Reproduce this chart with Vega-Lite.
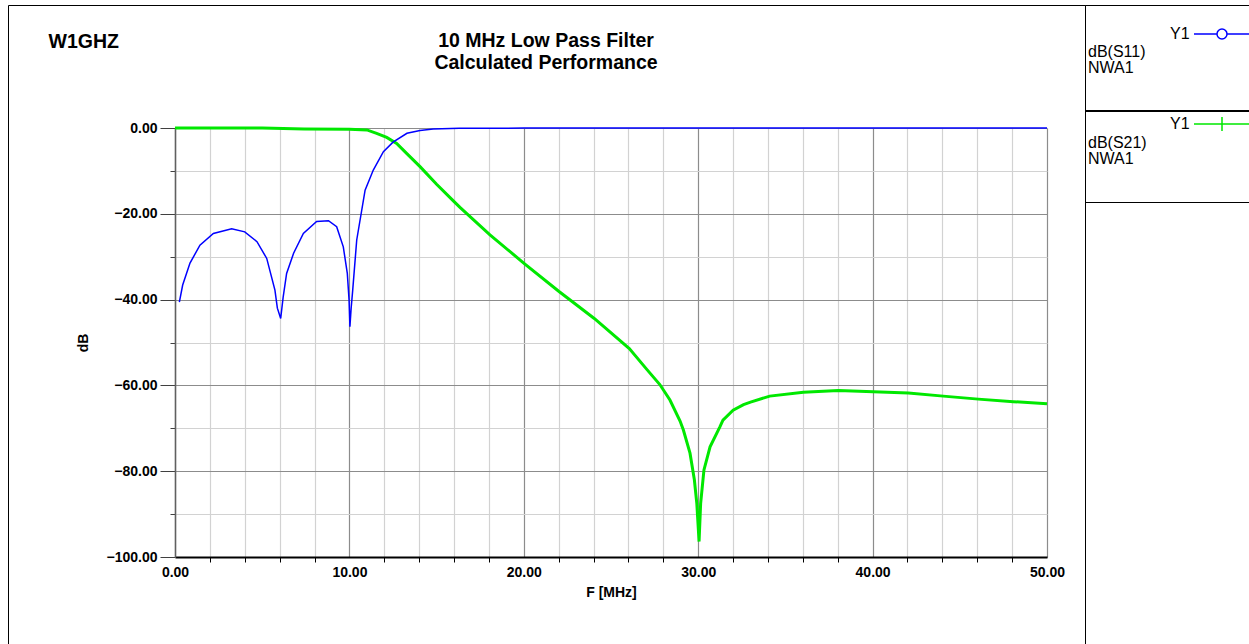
{
  "$schema": "https://vega.github.io/schema/vega-lite/v6.json",
  "width": 872,
  "height": 429,
  "autosize": {"type": "none"},
  "padding": {"left": 175, "top": 128, "right": 202, "bottom": 87},
  "background": "white",
  "config": {"view": {"stroke": null}, "font": "Liberation Sans"},
  "title": {
    "text": ["10 MHz Low Pass Filter", "Calculated Performance"],
    "anchor": "middle",
    "frame": "group",
    "dx": -65,
    "offset": -69,
    "font": "Liberation Sans",
    "fontSize": 19.5,
    "fontWeight": "bold",
    "color": "black",
    "lineHeight": 22
  },
  "data": {
    "values": [
      {"f": 0.25, "dB": -40.6, "series": "dB(S11)"},
      {"f": 0.44, "dB": -36.6, "series": "dB(S11)"},
      {"f": 0.86, "dB": -31.5, "series": "dB(S11)"},
      {"f": 1.43, "dB": -27.3, "series": "dB(S11)"},
      {"f": 2.2, "dB": -24.6, "series": "dB(S11)"},
      {"f": 3.25, "dB": -23.5, "series": "dB(S11)"},
      {"f": 4.0, "dB": -24.2, "series": "dB(S11)"},
      {"f": 4.7, "dB": -26.5, "series": "dB(S11)"},
      {"f": 5.26, "dB": -30.4, "series": "dB(S11)"},
      {"f": 5.73, "dB": -37.8, "series": "dB(S11)"},
      {"f": 5.87, "dB": -42.0, "series": "dB(S11)"},
      {"f": 6.06, "dB": -44.4, "series": "dB(S11)"},
      {"f": 6.2, "dB": -39.5, "series": "dB(S11)"},
      {"f": 6.4, "dB": -33.9, "series": "dB(S11)"},
      {"f": 6.8, "dB": -29.2, "series": "dB(S11)"},
      {"f": 7.36, "dB": -24.6, "series": "dB(S11)"},
      {"f": 8.12, "dB": -21.8, "series": "dB(S11)"},
      {"f": 8.8, "dB": -21.6, "series": "dB(S11)"},
      {"f": 9.27, "dB": -23.0, "series": "dB(S11)"},
      {"f": 9.65, "dB": -27.7, "series": "dB(S11)"},
      {"f": 9.88, "dB": -33.9, "series": "dB(S11)"},
      {"f": 9.98, "dB": -40.0, "series": "dB(S11)"},
      {"f": 10.03, "dB": -46.3, "series": "dB(S11)"},
      {"f": 10.1, "dB": -42.0, "series": "dB(S11)"},
      {"f": 10.19, "dB": -37.8, "series": "dB(S11)"},
      {"f": 10.42, "dB": -26.1, "series": "dB(S11)"},
      {"f": 10.9, "dB": -14.5, "series": "dB(S11)"},
      {"f": 11.37, "dB": -9.8, "series": "dB(S11)"},
      {"f": 11.95, "dB": -5.5, "series": "dB(S11)"},
      {"f": 12.5, "dB": -3.3, "series": "dB(S11)"},
      {"f": 13.3, "dB": -1.24, "series": "dB(S11)"},
      {"f": 14.05, "dB": -0.6, "series": "dB(S11)"},
      {"f": 14.8, "dB": -0.25, "series": "dB(S11)"},
      {"f": 16.3, "dB": -0.07, "series": "dB(S11)"},
      {"f": 20, "dB": -0.02, "series": "dB(S11)"},
      {"f": 30, "dB": -0.01, "series": "dB(S11)"},
      {"f": 40, "dB": 0, "series": "dB(S11)"},
      {"f": 50, "dB": 0, "series": "dB(S11)"},
      {"f": 0, "dB": 0, "series": "dB(S21)"},
      {"f": 5, "dB": -0.02, "series": "dB(S21)"},
      {"f": 7.4, "dB": -0.25, "series": "dB(S21)"},
      {"f": 10, "dB": -0.3, "series": "dB(S21)"},
      {"f": 11, "dB": -0.45, "series": "dB(S21)"},
      {"f": 11.56, "dB": -1.24, "series": "dB(S21)"},
      {"f": 12.14, "dB": -2.2, "series": "dB(S21)"},
      {"f": 12.71, "dB": -3.6, "series": "dB(S21)"},
      {"f": 13.28, "dB": -5.9, "series": "dB(S21)"},
      {"f": 14.05, "dB": -9.0, "series": "dB(S21)"},
      {"f": 15.0, "dB": -13.1, "series": "dB(S21)"},
      {"f": 15.96, "dB": -17.0, "series": "dB(S21)"},
      {"f": 16.34, "dB": -18.5, "series": "dB(S21)"},
      {"f": 18.06, "dB": -24.9, "series": "dB(S21)"},
      {"f": 20.03, "dB": -31.6, "series": "dB(S21)"},
      {"f": 22.02, "dB": -38.1, "series": "dB(S21)"},
      {"f": 24.04, "dB": -44.4, "series": "dB(S21)"},
      {"f": 26.05, "dB": -51.4, "series": "dB(S21)"},
      {"f": 27.04, "dB": -56.2, "series": "dB(S21)"},
      {"f": 27.8, "dB": -59.8, "series": "dB(S21)"},
      {"f": 28.38, "dB": -63.4, "series": "dB(S21)"},
      {"f": 28.96, "dB": -68.3, "series": "dB(S21)"},
      {"f": 29.15, "dB": -70.4, "series": "dB(S21)"},
      {"f": 29.53, "dB": -75.8, "series": "dB(S21)"},
      {"f": 29.78, "dB": -82.0, "series": "dB(S21)"},
      {"f": 29.92, "dB": -87.5, "series": "dB(S21)"},
      {"f": 30.05, "dB": -96.4, "series": "dB(S21)"},
      {"f": 30.14, "dB": -87.5, "series": "dB(S21)"},
      {"f": 30.33, "dB": -79.7, "series": "dB(S21)"},
      {"f": 30.68, "dB": -74.3, "series": "dB(S21)"},
      {"f": 31.25, "dB": -69.6, "series": "dB(S21)"},
      {"f": 31.42, "dB": -68.1, "series": "dB(S21)"},
      {"f": 32.0, "dB": -65.8, "series": "dB(S21)"},
      {"f": 32.6, "dB": -64.5, "series": "dB(S21)"},
      {"f": 33.0, "dB": -63.9, "series": "dB(S21)"},
      {"f": 34.1, "dB": -62.5, "series": "dB(S21)"},
      {"f": 36.03, "dB": -61.6, "series": "dB(S21)"},
      {"f": 38.03, "dB": -61.2, "series": "dB(S21)"},
      {"f": 40.04, "dB": -61.5, "series": "dB(S21)"},
      {"f": 42.05, "dB": -61.8, "series": "dB(S21)"},
      {"f": 44.05, "dB": -62.5, "series": "dB(S21)"},
      {"f": 46.06, "dB": -63.2, "series": "dB(S21)"},
      {"f": 48.07, "dB": -63.8, "series": "dB(S21)"},
      {"f": 50, "dB": -64.3, "series": "dB(S21)"}
    ]
  },
  "layer": [
    {
      "transform": [{"filter": "datum.series === 'dB(S21)'"}],
      "mark": {"type": "line", "strokeWidth": 3, "interpolate": "linear"},
      "encoding": {
        "x": {
          "field": "f", "type": "quantitative",
          "scale": {"domain": [0, 50], "nice": false, "zero": false},
          "axis": {
            "orient": "bottom",
            "values": [0,2,4,6,8,10,12,14,16,18,20,22,24,26,28,30,32,34,36,38,40,42,44,46,48,50],
            "labelExpr": "datum.value % 10 === 0 ? format(datum.value, '.2f') : ''",
            "labelFont": "Liberation Sans", "labelFontWeight": "bold", "labelFontSize": 14, "labelColor": "black",
            "labelPadding": 3, "labelFlush": false, "labelOverlap": false,
            "grid": true,
            "gridColor": {"condition": {"test": "datum.value % 10 === 0", "value": "#8c8c8c"}, "value": "#d2d2d2"},
            "gridWidth": 1.2,
            "tickSize": 5,
            "tickColor": {"condition": {"test": "datum.value % 10 === 0", "value": "transparent"}, "value": "black"},
            "domainColor": "black", "domainWidth": 2,
            "title": "F [MHz]", "titleFont": "Liberation Sans", "titleFontWeight": "bold", "titleFontSize": 14,
            "titleColor": "black", "titlePadding": 6
          }
        },
        "y": {
          "field": "dB", "type": "quantitative",
          "scale": {"domain": [-100, 0], "nice": false},
          "axis": {
            "orient": "left",
            "values": [-100,-95,-90,-85,-80,-75,-70,-65,-60,-55,-50,-45,-40,-35,-30,-25,-20,-15,-10,-5,0],
            "labelExpr": "datum.value % 20 === 0 ? format(datum.value, '.2f') : ''",
            "labelFont": "Liberation Sans", "labelFontWeight": "bold", "labelFontSize": 14, "labelColor": "black",
            "labelPadding": 3, "labelFlush": false, "labelOverlap": false,
            "grid": true,
            "gridColor": {"condition": {"test": "datum.value % 20 === 0", "value": "#8c8c8c"}, "value": "#d2d2d2"},
            "gridWidth": 1.2,
            "tickSize": {"condition": {"test": "datum.value % 20 === 0", "value": 15}, "value": 5},
            "tickColor": "#404040",
            "domainColor": "#606060", "domainWidth": 1.5,
            "title": "dB", "titleFont": "Liberation Sans", "titleFontWeight": "bold", "titleFontSize": 14,
            "titleColor": "black", "titlePadding": 16
          }
        },
        "color": {
          "field": "series", "type": "nominal",
          "scale": {"domain": ["dB(S21)"], "range": ["#00e800"]},
          "legend": {
            "orient": "none", "legendX": 910, "legendY": -18,
            "strokeColor": "black", "padding": 3,
            "symbolType": "M-2.8,0H2.8M0,-0.7V0.7",
            "symbolSize": 400, "symbolStrokeWidth": 1.5, "symbolStrokeColor": "#00e800", "symbolOffset": 123,
            "labelExpr": "'Y1'", "labelOffset": -63, "labelFont": "Liberation Sans", "labelFontSize": 16, "labelColor": "black",
            "title": ["dB(S21)", "NWA1", "", ""], "titleOrient": "bottom", "titleAnchor": "start",
            "titleFont": "Liberation Sans", "titleFontWeight": "normal", "titleFontSize": 16, "titleLineHeight": 16,
            "titleColor": "black", "titlePadding": 1
          }
        }
      }
    },
    {
      "transform": [{"filter": "datum.series === 'dB(S11)'"}],
      "mark": {"type": "line", "strokeWidth": 1.5, "interpolate": "linear"},
      "encoding": {
        "x": {
          "field": "f", "type": "quantitative",
          "axis": {
            "orient": "top", "domain": false, "ticks": false, "labels": false, "grid": false,
            "title": "W1GHZ", "titleFont": "Liberation Sans", "titleFontWeight": "bold", "titleFontSize": 19.5,
            "titleColor": "black", "titleAnchor": "start", "titleAlign": "left", "titleBaseline": "alphabetic",
            "titleX": -127, "titleY": -81, "titleAngle": 0
          }
        },
        "y": {"field": "dB", "type": "quantitative"},
        "color": {
          "field": "series", "type": "nominal",
          "scale": {"domain": ["dB(S11)"], "range": ["#0000ff"]},
          "legend": {
            "orient": "none", "legendX": 910, "legendY": -123,
            "strokeColor": "black", "padding": 3,
            "symbolType": "M-1.12,0H-0.2A0.2,0.2,0,1,1,0.2,0A0.2,0.2,0,1,1,-0.2,0M0.2,0H1.12",
            "symbolSize": 2500, "symbolStrokeWidth": 1.5, "symbolFillColor": "white", "symbolStrokeColor": "#0000ff", "symbolOffset": 108,
            "labelExpr": "'Y1'", "labelOffset": -78, "labelFont": "Liberation Sans", "labelFontSize": 16, "labelColor": "black",
            "title": ["dB(S11)", "NWA1", "", ""], "titleOrient": "bottom", "titleAnchor": "start",
            "titleFont": "Liberation Sans", "titleFontWeight": "normal", "titleFontSize": 16, "titleLineHeight": 16,
            "titleColor": "black", "titlePadding": 2
          }
        }
      }
    },
    {
      "transform": [{"filter": "datum.series === 'dB(S11)'"}],
      "mark": {"type": "point", "size": 0, "strokeWidth": 0, "filled": false},
      "encoding": {
        "x": {"field": "f", "type": "quantitative", "axis": null},
        "y": {"field": "dB", "type": "quantitative"},
        "opacity": {
          "field": "f", "type": "quantitative",
          "scale": {"domain": [0, 50], "range": [0, 0]},
          "legend": {
            "orient": "none", "legendX": -167, "legendY": -123,
            "strokeColor": "black", "padding": 20,
            "values": [0],
            "symbolType": "M-1,-1H1V1H-1Z", "symbolSize": 1071225,
            "symbolStrokeColor": "transparent", "symbolFillColor": "transparent", "symbolOpacity": 0,
            "labelExpr": "''", "labelOffset": 0,
            "title": null
          }
        }
      }
    }
  ],
  "resolve": {"scale": {"color": "independent"}, "axis": {"x": "independent"}}
}
